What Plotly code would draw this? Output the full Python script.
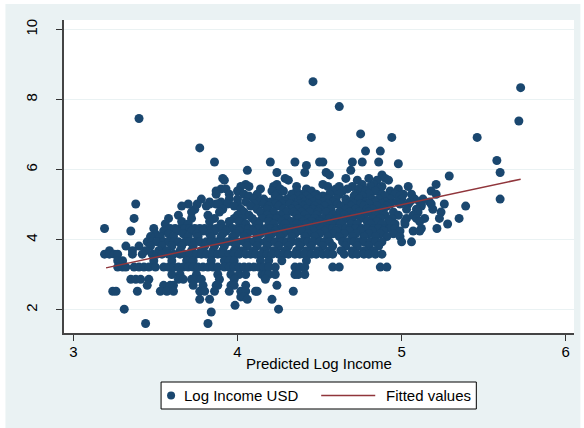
import plotly.graph_objects as go

# ---- Data: predicted log income (x) grouped by observed log income level (y) ----
y851 = [4.46]
y834 = [5.725]
y780 = [4.62]
y746 = [3.40]
y739 = [5.714]
y702 = [4.75]
y692 = [4.45, 4.94, 5.46]
y662 = [3.77]
y653 = [4.78, 4.87]
y626 = [5.58]
y622 = [3.86, 4.20, 4.35, 4.50, 4.52, 4.70, 4.76, 4.86]
y617 = [4.98]
y612 = [4.42]
y598 = [4.06, 4.69]
y592 = [4.24, 4.41, 4.54, 5.60]
y585 = [4.56, 4.88]
y582 = [5.29]
y575 = [3.91, 4.29, 4.66, 4.80, 4.90]
y570 = [3.92, 4.31, 4.73, 4.85, 4.92]
y558 = [4.05, 4.24, 4.52, 4.76, 4.83, 5.21]
y552 = [4.02, 4.07, 4.22, 4.36, 4.55, 4.62, 4.70, 4.81, 4.88, 5.04]
y545 = [3.90, 3.93, 4.14, 4.26, 4.42, 4.60, 4.67, 4.74, 4.86, 4.98]
y539 = [3.87, 4.00, 4.21, 4.28, 4.36, 4.45, 4.58, 4.64, 4.78, 4.84, 4.93, 5.18]
y530 = [3.87, 3.95, 4.04, 4.12, 4.24, 4.33, 4.40, 4.48, 4.56, 4.62, 4.72,
        4.80, 4.88, 4.96, 5.01, 5.06, 5.21]
y525 = [4.07, 4.23, 4.37, 4.42, 4.47, 4.52, 4.71, 4.76, 4.90, 4.99]
y516 = [3.78, 3.95, 4.00, 4.10, 4.16, 4.26, 4.30, 4.34, 4.39, 4.44, 4.49, 4.55,
        4.60, 4.66, 4.74, 4.82, 4.86, 4.93, 5.00, 5.08, 5.13, 5.60]
y508 = [3.83, 3.90, 4.05, 4.13, 4.20, 4.29, 4.37, 4.41, 4.46, 4.52, 4.58, 4.69,
        4.78, 4.84, 4.90, 4.97, 5.05, 5.11, 5.17]
y502 = [3.38, 3.70, 3.755, 3.83, 3.87, 3.88, 3.94, 4.00, 4.10, 4.16, 4.23, 4.27,
        4.32, 4.38, 4.43, 4.49, 4.55, 4.61, 4.66, 4.71, 4.75, 4.80, 4.88, 4.93,
        4.99, 5.04, 5.12, 5.18, 5.26]
y496 = [3.66, 3.81, 3.98, 4.08, 4.19, 4.25, 4.35, 4.40, 4.47, 4.53, 4.63, 4.69,
        4.77, 4.85, 4.91, 5.12, 5.39]
y487 = [3.74, 3.91, 4.02, 4.12, 4.18, 4.28, 4.33, 4.37, 4.42, 4.46, 4.50,
        4.57, 4.66, 4.72, 4.79, 4.82, 4.89, 5.03, 5.09, 5.19]
y479 = [3.72, 3.89, 4.04, 4.14, 4.22, 4.30, 4.34, 4.39, 4.44, 4.49,
        4.54, 4.62, 4.68, 4.74, 4.80, 4.86, 4.95, 5.10, 5.24]
y470 = [3.64, 3.82, 4.00, 4.07, 4.18, 4.26, 4.36, 4.41, 4.48, 4.58,
        4.65, 4.71, 4.77, 4.84, 4.90, 4.98, 5.07]
y461 = [3.37, 3.58, 3.72, 3.86, 3.98, 4.03, 4.09, 4.15, 4.20,
        4.24, 4.30, 4.37, 4.43, 4.47, 4.52, 4.56, 4.61, 4.67, 4.75, 4.82, 4.87,
        4.94, 5.03, 5.09, 5.14, 5.23, 5.35]
y452 = [3.66, 3.83, 3.95, 4.01, 4.11, 4.19, 4.27, 4.33, 4.40,
        4.45, 4.50, 4.59, 4.64, 4.70, 4.79, 4.85, 4.92, 5.02, 5.11]
y445 = [3.56, 3.70, 3.90, 4.05, 4.13, 4.22, 4.29, 4.36, 4.42, 4.48,
        4.54, 4.57, 4.63, 4.69, 4.73, 4.81, 4.88, 4.96, 5.02, 5.28]
y432 = [3.19, 3.49, 3.59, 3.62, 3.65, 3.68, 3.71, 3.74, 3.77, 3.80, 3.84, 3.87,
        3.91, 3.94, 3.97, 4.00, 4.03, 4.07, 4.10, 4.13, 4.17, 4.20, 4.24, 4.27,
        4.30, 4.34, 4.38, 4.41, 4.44, 4.48, 4.51, 4.55, 4.58, 4.62, 4.66, 4.69,
        4.72, 4.76, 4.79, 4.83, 4.86, 4.90, 4.93, 4.96, 5.12, 5.215]
y425 = [3.35, 3.55, 3.63, 3.72, 3.79, 3.86, 3.93, 4.01, 4.09, 4.16, 4.23, 4.31,
        4.39, 4.46, 4.53, 4.60, 4.68, 4.75, 4.82, 4.89, 4.99, 5.07, 5.11]
y417 = [3.50, 3.58, 3.67, 3.75, 3.83, 3.91, 3.99, 4.06, 4.14, 4.21, 4.28, 4.35,
        4.43, 4.50, 4.58, 4.65, 4.72, 4.80, 4.87, 4.95]
y409 = [3.47, 3.53, 3.61, 3.70, 3.76, 3.84, 3.90, 3.97, 4.04, 4.12, 4.19, 4.26,
        4.33, 4.41, 4.47, 4.55, 4.62, 4.70, 4.77, 4.84, 4.91, 4.99]
y394 = [3.45, 3.48, 3.51, 3.55, 3.58, 3.61, 3.64, 3.68, 3.71, 3.74, 3.77, 3.81,
        3.84, 3.87, 3.90, 3.94, 3.97, 4.00, 4.04, 4.07, 4.10, 4.13, 4.17, 4.20,
        4.23, 4.27, 4.30, 4.33, 4.37, 4.40, 4.43, 4.46, 4.50, 4.53, 4.56, 4.64,
        4.67, 4.71, 4.74, 4.77, 4.81, 4.84, 4.88, 5.00, 5.06]
y382 = [3.32, 3.40, 3.47, 3.54, 3.60, 3.66, 3.73, 3.80, 3.86, 3.92, 3.99, 4.06,
        4.12, 4.18, 4.25, 4.31, 4.38, 4.45, 4.52, 4.58, 4.66, 4.73, 4.80, 4.86]
y369 = [3.22, 3.36, 3.44, 3.52, 3.57, 3.65, 3.72, 3.78, 3.85, 3.91, 3.98, 4.03,
        4.10, 4.16, 4.22, 4.29, 4.36, 4.42, 4.49, 4.56, 4.63, 4.70, 4.77, 4.83]
y359 = [3.19, 3.22, 3.25, 3.27, 3.36, 3.42, 3.48, 3.51, 3.54, 3.58, 3.61, 3.65,
        3.68, 3.71, 3.75, 3.78, 3.81, 3.85, 3.88, 3.91, 3.95, 3.98, 4.01, 4.05,
        4.08, 4.11, 4.15, 4.18, 4.21, 4.25, 4.28, 4.31, 4.35, 4.38, 4.41, 4.45,
        4.48, 4.52, 4.55, 4.58, 4.65, 4.70, 4.73, 4.77, 4.80, 4.84, 4.88]
y340 = [3.27, 3.30, 3.49, 3.60, 3.69, 3.73, 3.84, 3.92, 3.95, 3.98, 4.14, 4.19,
        4.27, 4.42]
y322 = [3.27, 3.30, 3.32, 3.37, 3.40, 3.43, 3.46, 3.50, 3.55, 3.58, 3.61, 3.64,
        3.67, 3.70, 3.73, 3.76, 3.79, 3.82, 3.85, 3.88, 3.92, 3.95, 3.98, 4.01,
        4.04, 4.07, 4.10, 4.13, 4.16, 4.19, 4.23, 4.35, 4.38, 4.41, 4.58, 4.62,
        4.87, 4.91]
y301 = [3.60, 3.65, 3.75, 3.88, 3.96, 4.01, 4.05, 4.15, 4.17, 4.19, 4.23, 4.35,
        4.37, 4.41]
y287 = [3.35, 3.38, 3.41, 3.46, 3.64, 3.67, 3.72, 3.74, 3.78, 3.89, 3.98, 4.17]
y270 = [3.45, 3.55, 3.59, 3.61, 3.73, 3.79, 3.87, 3.88, 3.96, 3.98, 4.05, 4.24]
y253 = [3.24, 3.26, 3.39, 3.53, 3.57, 3.61, 3.77, 3.80, 3.86, 3.95, 4.02, 4.05,
        4.11, 4.12, 4.34]
y237 = [4.02, 4.04]
y230 = [3.77, 3.83, 4.06, 4.21]
y213 = [3.985]
y202 = [3.31, 4.25]
y194 = [3.84]
y161 = [3.44, 3.82]

log_income_levels = [8.51, 8.34, 7.80, 7.46, 7.39, 7.02, 6.92, 6.62, 6.53, 6.26,
                     6.22, 6.17, 6.12, 5.98, 5.92, 5.85, 5.82, 5.75, 5.70, 5.58,
                     5.52, 5.45, 5.39, 5.30, 5.25, 5.16, 5.08, 5.02, 4.96, 4.87,
                     4.79, 4.70, 4.61, 4.52, 4.45, 4.32, 4.25, 4.17, 4.09, 3.94,
                     3.82, 3.69, 3.59, 3.40, 3.22, 3.01, 2.87, 2.70, 2.53, 2.37,
                     2.30, 2.13, 2.02, 1.94, 1.61]
predicted_by_level = [y851, y834, y780, y746, y739, y702, y692, y662, y653, y626,
                      y622, y617, y612, y598, y592, y585, y582, y575, y570, y558,
                      y552, y545, y539, y530, y525, y516, y508, y502, y496, y487,
                      y479, y470, y461, y452, y445, y432, y425, y417, y409, y394,
                      y382, y369, y359, y340, y322, y301, y287, y270, y253, y237,
                      y230, y213, y202, y194, y161]

# Fitted line endpoints
fit_x = [3.199, 5.725]
fit_y = [3.198, 5.729]

x_ticks = [3, 4, 5, 6]
y_ticks = [2, 4, 6, 8, 10]
legend_labels = ["Log Income USD", "Fitted values"]

# ---- Build flat table ----
pred_x, log_inc = [], []
for lvl, xs in zip(log_income_levels, predicted_by_level):
    for xv in xs:
        pred_x.append(xv)
        log_inc.append(lvl)

NAVY = "#1A476F"
MAROON = "#90353B"
BG = "#EAF2F3"
FONT = "Arial, Liberation Sans, sans-serif"

W, H = 584, 428
ML, MR, MT, MB = 64, 10.4, 20, 95
PW, PH = W - ML - MR, H - MT - MB


def px2x(px):
    return (px - ML) / PW


def py2y(py):
    return (H - MB - py) / PH


fig = go.Figure()
fig.add_trace(go.Scatter(
    x=pred_x, y=log_inc, mode="markers", name=legend_labels[0],
    marker=dict(color=NAVY, size=9, line=dict(width=0)),
))
fig.add_trace(go.Scatter(
    x=fit_x, y=fit_y, mode="lines", name=legend_labels[1],
    line=dict(color=MAROON, width=1.5),
))

# white outer margins (page edge)
for x0, x1, y0, y1 in [(px2x(-20), px2x(5.5), py2y(460), py2y(-20)),
                       (px2x(-20), px2x(610), py2y(4), py2y(-20)),
                       (px2x(580), px2x(610), py2y(460), py2y(-20))]:
    fig.add_shape(type="rect", xref="paper", yref="paper", x0=x0, x1=x1,
                  y0=y0, y1=y1, fillcolor="white", line=dict(width=0),
                  layer="above")

# legend (drawn as box + key marks + text)
fig.add_shape(type="rect", xref="paper", yref="paper",
              x0=px2x(161), x1=px2x(476), y0=py2y(409), y1=py2y(382),
              fillcolor="white", line=dict(color="black", width=1))
fig.add_shape(type="circle", xref="paper", yref="paper",
              x0=px2x(167), x1=px2x(175), y0=py2y(399.5), y1=py2y(391.5),
              fillcolor=NAVY, line=dict(width=0))
fig.add_shape(type="line", xref="paper", yref="paper",
              x0=px2x(321), x1=px2x(375), y0=py2y(395.5), y1=py2y(395.5),
              line=dict(color=MAROON, width=1.5))
fig.add_annotation(xref="paper", yref="paper", x=px2x(182), y=py2y(395.5),
                   text=legend_labels[0], showarrow=False, xanchor="left",
                   yanchor="middle", font=dict(size=15))
fig.add_annotation(xref="paper", yref="paper", x=px2x(384), y=py2y(395.5),
                   text=legend_labels[1], showarrow=False, xanchor="left",
                   yanchor="middle", font=dict(size=15))

fig.update_layout(
    width=W, height=H,
    margin=dict(l=ML, r=MR, t=MT, b=MB, pad=0),
    paper_bgcolor=BG, plot_bgcolor="white",
    font=dict(family=FONT, size=15, color="black"),
    showlegend=False,
)
fig.update_xaxes(
    range=[2.943, 6.05], tickvals=x_ticks, ticks="outside", ticklen=6,
    tickcolor="#333", showline=True, linecolor="#444", linewidth=1.5,
    showgrid=False, zeroline=False, tickfont=dict(size=15),
    ticklabelstandoff=-2,
    title=dict(text="Predicted Log Income", font=dict(size=15), standoff=0),
)
fig.update_yaxes(
    range=[1.34, 10.27], tickvals=y_ticks, ticks="outside", ticklen=6,
    tickcolor="#333", showline=True, linecolor="#444", linewidth=1.5,
    showgrid=True, gridcolor=BG, gridwidth=1, zeroline=False,
    tickangle=-90, tickfont=dict(size=15), ticklabelstandoff=13,
)

fig.write_html("out.html")
